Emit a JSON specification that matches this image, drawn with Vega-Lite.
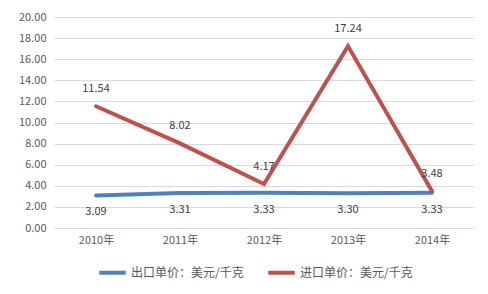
{
  "$schema": "https://vega.github.io/schema/vega-lite/v6.json",
  "width": 420,
  "height": 211,
  "autosize": "none",
  "padding": {"left": 54, "top": 17, "right": 14, "bottom": 66},
  "background": "white",
  "config": {
    "view": {"stroke": null},
    "font": "Noto Sans CJK SC",
    "axis": {"labelFont": "Noto Sans CJK SC", "labelColor": "#595959", "labelFontSize": 11}
  },
  "data": {
    "values": [
      {"year": "2010年", "series": "出口单价：美元/千克", "value": 3.09},
      {"year": "2011年", "series": "出口单价：美元/千克", "value": 3.31},
      {"year": "2012年", "series": "出口单价：美元/千克", "value": 3.33},
      {"year": "2013年", "series": "出口单价：美元/千克", "value": 3.30},
      {"year": "2014年", "series": "出口单价：美元/千克", "value": 3.33},
      {"year": "2010年", "series": "进口单价：美元/千克", "value": 11.54},
      {"year": "2011年", "series": "进口单价：美元/千克", "value": 8.02},
      {"year": "2012年", "series": "进口单价：美元/千克", "value": 4.17},
      {"year": "2013年", "series": "进口单价：美元/千克", "value": 17.24},
      {"year": "2014年", "series": "进口单价：美元/千克", "value": 3.48}
    ]
  },
  "encoding": {
    "x": {
      "field": "year", "type": "ordinal",
      "scale": {"type": "point", "padding": 0.5},
      "axis": {"title": null, "labelAngle": 0, "ticks": false, "domainColor": "#d9d9d9", "labelPadding": 6}
    },
    "y": {
      "field": "value", "type": "quantitative",
      "scale": {"domain": [0, 20], "nice": false},
      "axis": {"title": null, "values": [0, 2, 4, 6, 8, 10, 12, 14, 16, 18, 20], "format": ".2f", "ticks": false, "domain": false, "gridColor": "#d9d9d9", "labelPadding": 8}
    }
  },
  "layer": [
    {
      "mark": {"type": "line", "strokeWidth": 4, "strokeCap": "round", "strokeJoin": "miter"},
      "encoding": {
        "color": {
          "field": "series", "type": "nominal",
          "scale": {"domain": ["出口单价：美元/千克", "进口单价：美元/千克"], "range": ["#4F81BD", "#C0504D"]},
          "legend": {
            "title": null, "orient": "none", "legendX": 43, "legendY": 240, "direction": "horizontal",
            "symbolType": "stroke", "symbolStrokeWidth": 4, "symbolSize": 700, "labelOffset": 3,
            "labelFontSize": 12, "labelColor": "#595959", "labelFont": "Noto Sans CJK SC",
            "columnPadding": 16
          }
        }
      }
    },
    {
      "transform": [{"filter": "datum.series == '出口单价：美元/千克'"}],
      "mark": {"type": "text", "dy": 17, "fontSize": 11, "color": "#404040"},
      "encoding": {"text": {"field": "value", "type": "quantitative", "format": ".2f"}}
    },
    {
      "transform": [{"filter": "datum.series == '进口单价：美元/千克'"}],
      "mark": {"type": "text", "dy": -17, "fontSize": 11, "color": "#404040"},
      "encoding": {"text": {"field": "value", "type": "quantitative", "format": ".2f"}}
    }
  ]
}
